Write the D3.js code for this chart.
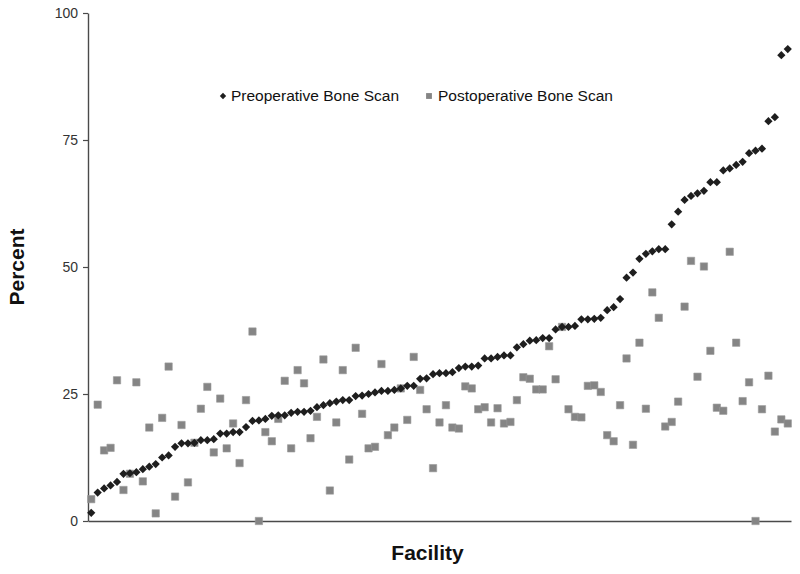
<!DOCTYPE html>
<html>
<head>
<meta charset="utf-8">
<script src="https://cdnjs.cloudflare.com/ajax/libs/d3/7.8.5/d3.min.js"></script>
<style>
  body { margin: 0; background: #fff; }
  #chart { width: 800px; height: 574px; }
  text { font-family: Arial, "Liberation Sans", sans-serif; }
</style>
</head>
<body>
<div id="chart"></div>
<script>
'use strict';

// one value per facility (facilities sorted by preoperative rate)
const preoperative = [
    1.6, 5.6, 6.4, 7.0, 7.7, 9.3, 9.4, 9.6, 10.2, 10.7,
    11.2, 12.5, 12.9, 14.6, 15.3, 15.3, 15.4, 15.9, 15.9, 16.1,
    17.2, 17.2, 17.5, 17.5, 18.5, 19.7, 19.8, 20.1, 20.7, 20.8,
    20.8, 21.3, 21.5, 21.5, 21.7, 22.4, 22.8, 23.2, 23.5, 23.8,
    23.8, 24.6, 24.7, 25.0, 25.3, 25.6, 25.6, 25.8, 26.1, 26.6,
    26.6, 28.0, 28.1, 28.9, 29.1, 29.1, 29.3, 30.1, 30.4, 30.4,
    30.6, 32.0, 32.0, 32.3, 32.6, 32.6, 34.2, 34.8, 35.5, 35.6,
    36.0, 36.0, 37.7, 38.2, 38.2, 38.4, 39.7, 39.7, 39.8, 40.0,
    41.5, 42.1, 43.7, 47.9, 48.9, 51.6, 52.6, 53.1, 53.5, 53.5,
    58.4, 60.9, 63.2, 64.0, 64.5, 65.0, 66.7, 66.7, 69.0, 69.4,
    70.1, 70.7, 72.4, 72.9, 73.3, 78.7, 79.5, 91.7, 92.9
];

const postoperative = [
    4.3, 22.9, 13.9, 14.4, 27.7, 6.1, 9.3, 27.3, 7.8, 18.4,
    1.5, 20.3, 30.4, 4.8, 18.9, 7.6, 15.4, 22.1, 26.4, 13.5,
    24.1, 14.3, 19.2, 11.4, 23.8, 37.3, 0.0, 17.5, 15.7, 20.1,
    27.6, 14.3, 29.7, 27.1, 16.3, 20.5, 31.8, 6.0, 19.4, 29.7,
    12.1, 34.1, 21.1, 14.3, 14.6, 30.9, 16.9, 18.4, 26.1, 19.9,
    32.3, 25.8, 22.0, 10.4, 19.4, 22.8, 18.4, 18.2, 26.5, 26.1,
    22.0, 22.4, 19.4, 22.2, 19.2, 19.5, 23.8, 28.3, 28.0, 25.9,
    25.9, 34.4, 27.9, 38.2, 22.0, 20.5, 20.4, 26.6, 26.7, 25.4,
    16.9, 15.7, 22.8, 32.0, 15.0, 35.1, 22.1, 45.0, 40.0, 18.6,
    19.5, 23.5, 42.2, 51.2, 28.4, 50.1, 33.5, 22.3, 21.7, 53.0,
    35.1, 23.6, 27.3, 0.0, 22.0, 28.6, 17.6, 20.0, 19.2
];

const facilities = preoperative.map((d, i) => i + 1);
const yTicks = [0, 25, 50, 75, 100];
const seriesNames = ["Preoperative Bone Scan", "Postoperative Bone Scan"];

const width = 800, height = 574;
const margins = {top: 13, bottom: 53, left: 88, right: 9};
const axisColor = "#4a4a4a";
const preColor = "#1e1e1e";
const postColor = "#858585";

let svg = d3.select('#chart').append('svg')
    .attr('width', width)
    .attr('height', height);

let xScale = d3.scalePoint()
    .domain(facilities)
    .range([margins.left, width - margins.right])
    .padding(0.5);

let yScale = d3.scaleLinear()
    .domain([0, 100])
    .range([height - margins.bottom, margins.top]);

// axes
let yAxis = d3.axisLeft(yScale)
    .tickValues(yTicks)
    .tickSize(5)
    .tickSizeOuter(0)
    .tickPadding(5);

let yAxisGroup = svg.append('g')
    .attr('transform', 'translate(' + margins.left + ',0)')
    .call(yAxis);
yAxisGroup.select('.domain').attr('stroke', axisColor).attr('stroke-width', 1.4);
yAxisGroup.selectAll('.tick line').attr('stroke', axisColor).attr('stroke-width', 1.2);
yAxisGroup.selectAll('.tick text')
    .attr('fill', '#333')
    .style('font-size', '14px')
    .style('font-family', 'Arial, "Liberation Sans", sans-serif');

let xAxis = d3.axisBottom(xScale)
    .tickValues([])
    .tickSizeOuter(0);

let xAxisGroup = svg.append('g')
    .attr('transform', 'translate(0,' + (height - margins.bottom) + ')')
    .call(xAxis);
xAxisGroup.select('.domain').attr('stroke', axisColor).attr('stroke-width', 1.4);

// axis titles
svg.append('text')
    .attr('x', (margins.left + width - margins.right) / 2 - 12)
    .attr('y', 560)
    .attr('text-anchor', 'middle')
    .style('font-size', '21px')
    .style('font-weight', 'bold')
    .attr('fill', '#111')
    .text('Facility');

svg.append('text')
    .attr('transform', 'translate(24,' + yScale(50) + ') rotate(-90)')
    .attr('text-anchor', 'middle')
    .style('font-size', '21px')
    .style('font-weight', 'bold')
    .attr('fill', '#111')
    .text('Percent');

// markers
let diamond = d3.symbol().type(d3.symbolSquare).size(34);
let square = d3.symbol().type(d3.symbolSquare).size(54);

svg.append('g').selectAll('path')
    .data(postoperative)
    .enter()
    .append('path')
    .attr('d', square)
    .attr('transform', (d, i) => 'translate(' + xScale(facilities[i]) + ',' + yScale(d) + ')')
    .attr('fill', postColor)
    .attr('stroke', '#9a9a9a')
    .attr('stroke-width', 0.6);

svg.append('g').selectAll('path')
    .data(preoperative)
    .enter()
    .append('path')
    .attr('d', diamond)
    .attr('transform', (d, i) => 'translate(' + xScale(facilities[i]) + ',' + yScale(d) + ') rotate(45)')
    .attr('fill', preColor);

// legend
let legend = svg.append('g');
legend.append('path')
    .attr('d', d3.symbol().type(d3.symbolSquare).size(20))
    .attr('transform', 'translate(223,96) rotate(45)')
    .attr('fill', preColor);
legend.append('text')
    .attr('x', 231)
    .attr('y', 101)
    .style('font-size', '15.5px')
    .attr('fill', '#111')
    .text(seriesNames[0]);

legend.append('path')
    .attr('d', d3.symbol().type(d3.symbolSquare).size(34))
    .attr('transform', 'translate(429,96)')
    .attr('fill', postColor);
legend.append('text')
    .attr('x', 438)
    .attr('y', 101)
    .style('font-size', '15.5px')
    .attr('fill', '#111')
    .text(seriesNames[1]);
</script>
</body>
</html>
